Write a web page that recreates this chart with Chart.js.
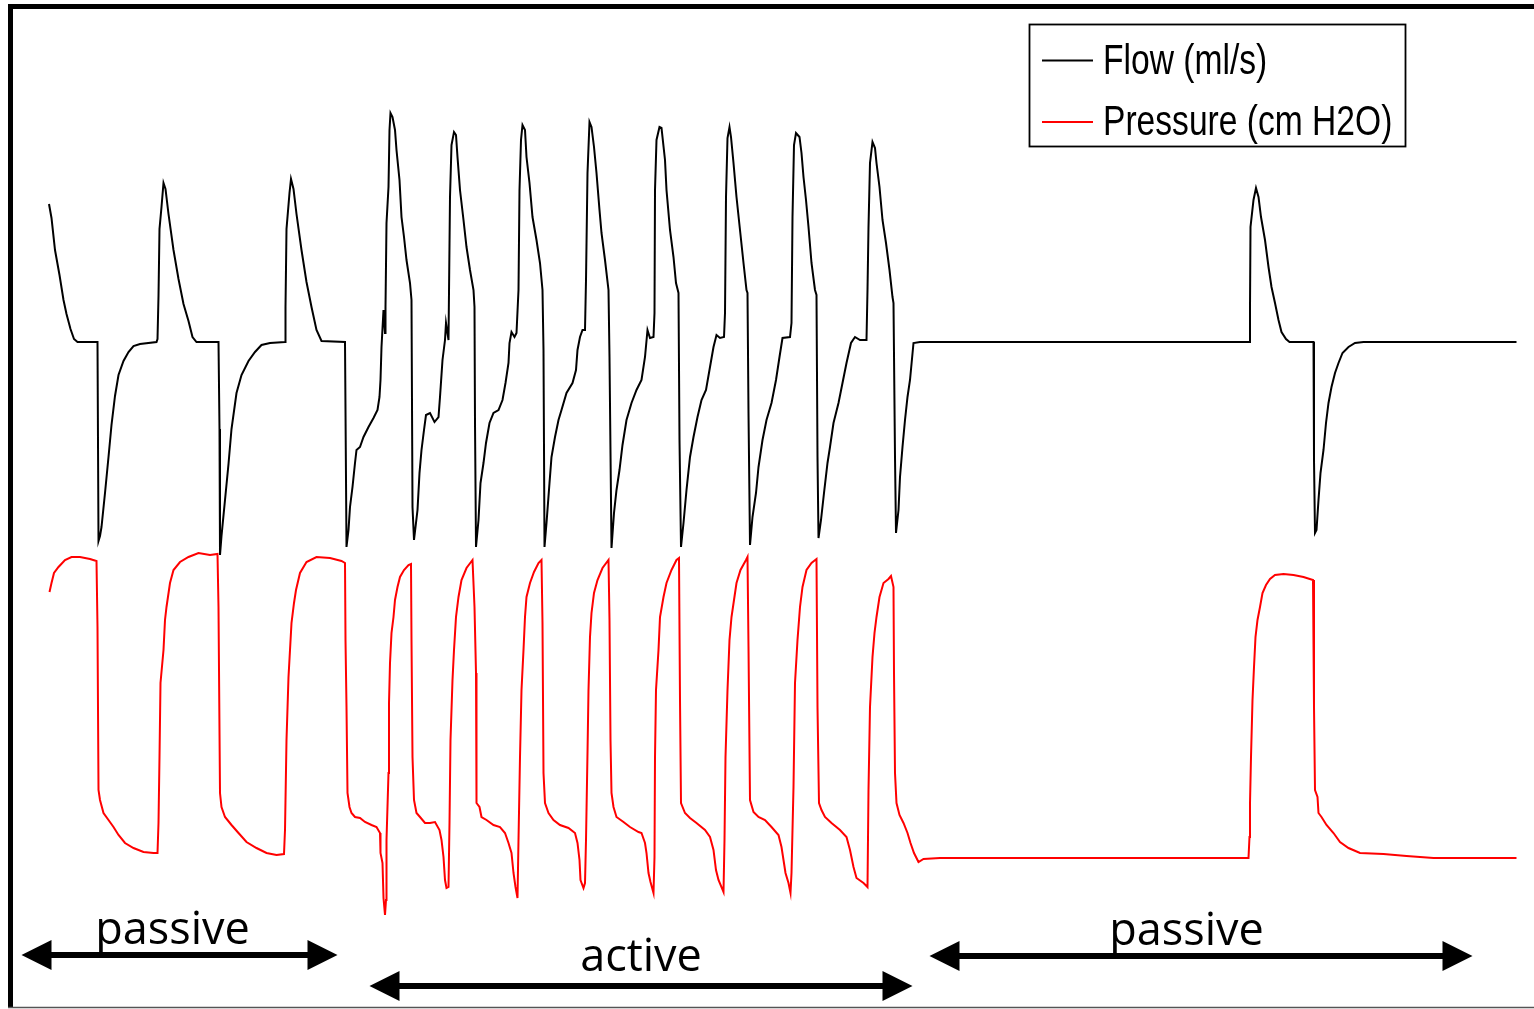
<!DOCTYPE html>
<html>
<head>
<meta charset="utf-8">
<title>Flow and pressure</title>
<script src="https://cdn.jsdelivr.net/npm/chart.js@4.4.1/dist/chart.umd.min.js"></script>
<style>
  html, body { margin: 0; padding: 0; background: #fff; }
  #wrap { width: 1534px; height: 1009px; position: relative; }
</style>
</head>
<body>
<div id="wrap"><canvas id="trace"></canvas></div>
<script>
// ---- flow trace, time (s) and flow (ml/s), one line per breath ----
const flowTime = [
  0.72, 0.77, 0.84, 0.93, 1.01, 1.07, 1.15, 1.22, 1.29, 1.69,
  1.71, 1.74, 1.77, 1.84, 1.91, 1.97, 2.04, 2.11, 2.21, 2.31, 2.41, 2.54, 2.87,
  2.89, 2.91, 2.93, 2.97, 3.01, 3.05, 3.11, 3.21, 3.31, 3.41, 3.51, 3.59, 3.67, 4.11,
  4.13, 4.14, 4.17, 4.24, 4.31, 4.37, 4.47, 4.57, 4.71, 4.84, 4.97, 5.14, 5.44,
  5.45, 5.47, 5.53, 5.56, 5.61, 5.67, 5.77, 5.87, 5.97, 6.07, 6.17, 6.64,
  6.67, 6.71, 6.74, 6.79, 6.84, 6.87, 6.94, 7.01, 7.11, 7.21, 7.29, 7.33, 7.35, 7.37, 7.41, 7.44, 7.45, 7.47, 7.51, 7.53, 7.55, 7.59, 7.64, 7.67, 7.73, 7.77, 7.82, 7.87, 7.94, 7.97,
  7.99, 8.02, 8.09, 8.13, 8.17, 8.22, 8.26, 8.34, 8.43, 8.51, 8.54, 8.59, 8.64, 8.66, 8.71, 8.74, 8.77, 8.82, 8.86, 8.89, 8.94, 9.01, 9.07, 9.14, 9.21, 9.23,
  9.24, 9.26, 9.31, 9.35, 9.41, 9.46, 9.53, 9.61, 9.71, 9.79, 9.85, 9.91, 9.93, 9.97, 10.03, 10.07, 10.11, 10.13, 10.16, 10.19, 10.24, 10.27, 10.33, 10.39, 10.47, 10.54, 10.59,
  10.61, 10.63, 10.67, 10.73, 10.77, 10.84, 10.91, 10.97, 11.07, 11.19, 11.26, 11.29, 11.34, 11.39, 11.44, 11.46, 11.49, 11.53, 11.57, 11.62, 11.67, 11.73, 11.77, 11.84, 11.91,
  11.93, 11.97, 12.02, 12.07, 12.13, 12.19, 12.27, 12.37, 12.47, 12.57, 12.64, 12.69, 12.74, 12.81, 12.83, 12.84, 12.87, 12.93, 12.97, 13.04, 13.07, 13.14, 13.21, 13.26, 13.31,
  13.33, 13.36, 13.41, 13.47, 13.54, 13.61, 13.69, 13.77, 13.86, 13.94, 14.01, 14.07, 14.14, 14.22, 14.24, 14.26, 14.29, 14.33, 14.36, 14.41, 14.47, 14.54, 14.61, 14.67, 14.69,
  14.71, 14.74, 14.79, 14.86, 14.91, 14.99, 15.07, 15.17, 15.26, 15.33, 15.39, 15.54, 15.57, 15.59, 15.62, 15.66, 15.73, 15.77, 15.81, 15.86, 15.91, 15.97, 16.04, 16.07,
  16.09, 16.11, 16.16, 16.22, 16.29, 16.34, 16.41, 16.51, 16.59, 16.67, 16.76, 16.84, 16.94, 17.07, 17.09, 17.11, 17.14, 17.19, 17.24, 17.27, 17.33, 17.39, 17.46, 17.53, 17.59, 17.61,
  17.64, 17.66, 17.71, 17.74, 17.79, 17.84, 17.89, 17.94, 18.01, 18.14, 24.73,
  24.74, 24.75, 24.81, 24.86, 24.91, 24.96, 25.04, 25.11, 25.17, 25.24, 25.31, 25.37, 25.46, 25.53, 26.01,
  26.02, 26.04, 26.07, 26.11, 26.15, 26.21, 26.26, 26.31, 26.37, 26.44, 26.51, 26.59, 26.71, 26.84, 27.01, 30.07
];
const flowRate = [
  138, 124, 92, 67, 42, 28, 13, 3, 0, 0,
  -199, -194, -185, -151, -115, -83, -54, -33, -19, -10, -4, -2, 0,
  3, 46, 113, 135, 159, 153, 128, 92, 63, 38, 21, 5, 0, 0,
  -87, -213, -194, -158, -122, -87, -51, -33, -19, -10, -3, -1, 0,
  35, 113, 149, 163, 153, 128, 92, 60, 35, 12, 1, 0,
  -205, -188, -165, -145, -121, -108, -105, -95, -85, -76, -68, -55, -38, -5, 32, 9, 35, 119, 155, 212, 229, 225, 212, 192, 162, 125, 105, 82, 59, 42,
  -165, -198, -168, -131, -108, -88, -73, -71, -80, -75, -55, -18, 2, 19, 2, 145, 197, 210, 207, 185, 152, 122, 95, 72, 52, 35,
  -81, -205, -178, -141, -121, -101, -81, -71, -68, -58, -41, -21, -1, 10, 5, 9, 52, 152, 202, 217, 212, 185, 159, 125, 102, 79, 52,
  -8, -205, -181, -141, -115, -95, -78, -68, -51, -41, -28, -8, 5, 12, 12, 62, 169, 220, 215, 195, 169, 132, 109, 82, 52,
  -15, -206, -171, -148, -128, -103, -78, -61, -48, -38, -15, 12, 4, 5, 29, 152, 202, 215, 214, 182, 152, 112, 85, 59, 49,
  -98, -205, -181, -148, -115, -95, -75, -58, -48, -25, -5, 7, 4, 5, 29, 145, 204, 215, 205, 179, 145, 112, 79, 52, 49,
  -71, -203, -175, -151, -125, -98, -78, -61, -38, -15, 4, 5, 19, 125, 197, 209, 205, 189, 165, 142, 115, 79, 52, 47,
  -115, -196, -178, -151, -121, -105, -81, -61, -41, -21, -1, 5, 2, 2, 52, 115, 179, 200, 194, 179, 155, 122, 99, 72, 45, 39,
  -115, -191, -168, -135, -105, -78, -55, -38, -1, 0, 0,
  35, 115, 142, 154, 145, 125, 102, 75, 55, 39, 22, 10, 3, 0, 0,
  -118, -191, -188, -158, -131, -108, -81, -61, -45, -31, -21, -11, -5, -1, 0, 0
];

// ---- pressure trace, time (s) and pressure (cm H2O) ----
const pressureTime = [
  0.73, 0.77, 0.82, 0.91, 1.04, 1.17, 1.34, 1.54, 1.67,
  1.69, 1.71, 1.74, 1.81, 1.91, 2.01, 2.11, 2.24, 2.41, 2.61, 2.81, 2.89,
  2.91, 2.93, 2.95, 3.01, 3.04, 3.07, 3.14, 3.21, 3.34, 3.51, 3.71, 3.94, 4.09,
  4.11, 4.14, 4.17, 4.24, 4.37, 4.51, 4.67, 4.87, 5.07, 5.27, 5.42,
  5.44, 5.47, 5.51, 5.57, 5.62, 5.66, 5.74, 5.87, 6.07, 6.34, 6.57, 6.64,
  6.65, 6.67, 6.69, 6.73, 6.77, 6.84, 6.94, 7.04, 7.17, 7.27, 7.34, 7.35, 7.39, 7.41, 7.44, 7.46,
  7.47, 7.51, 7.52, 7.54, 7.57, 7.61, 7.64, 7.69, 7.74, 7.82, 7.91, 7.96,
  7.97, 7.99, 8.02, 8.07, 8.14, 8.24, 8.34, 8.44, 8.53, 8.57, 8.61, 8.64, 8.67, 8.71,
  8.73, 8.75, 8.79, 8.82, 8.86, 8.91, 8.97, 9.07, 9.19,
  9.23, 9.26, 9.27, 9.33, 9.37, 9.47, 9.61, 9.74, 9.84, 9.91, 9.97, 10.01, 10.05, 10.09,
  10.11, 10.14, 10.17, 10.21, 10.24, 10.27, 10.34, 10.42, 10.51, 10.57,
  10.59, 10.61, 10.64, 10.71, 10.81, 10.94, 11.11, 11.24, 11.29, 11.33, 11.35, 11.41, 11.44,
  11.46, 11.49, 11.51, 11.54, 11.57, 11.62, 11.69, 11.79, 11.91,
  11.93, 11.95, 11.97, 12.01, 12.07, 12.21, 12.34, 12.51, 12.57, 12.64, 12.67, 12.71, 12.75, 12.81,
  12.83, 12.84, 12.86, 12.91, 12.94, 13.01, 13.07, 13.17, 13.27, 13.32,
  13.34, 13.36, 13.44, 13.54, 13.67, 13.84, 13.94, 14.01, 14.06, 14.11, 14.21,
  14.23, 14.25, 14.29, 14.33, 14.37, 14.42, 14.47, 14.55, 14.66, 14.69,
  14.71, 14.74, 14.81, 14.91, 15.04, 15.17, 15.31, 15.37, 15.41, 15.45, 15.51, 15.55,
  15.57, 15.61, 15.64, 15.69, 15.74, 15.79, 15.87, 15.97, 16.07,
  16.09, 16.12, 16.17, 16.24, 16.37, 16.54, 16.67, 16.74, 16.81, 16.87, 17.01, 17.09,
  17.11, 17.14, 17.19, 17.23, 17.27, 17.33, 17.41, 17.51, 17.56, 17.61,
  17.62, 17.64, 17.67, 17.73, 17.81, 17.89, 17.95, 18.02, 18.11, 18.21, 18.54, 24.71,
  24.73, 24.74, 24.76, 24.79, 24.82, 24.85, 24.89, 24.94, 24.99, 25.06, 25.14, 25.24, 25.41, 25.61, 25.81, 26.0,
  26.02, 26.04, 26.09, 26.11, 26.17, 26.27, 26.41, 26.54, 26.71, 26.94, 27.41, 27.87, 28.41, 30.07
];
const pressureValue = [
  13.3, 13.75, 14.25, 14.55, 14.9, 15.05, 15.05, 14.95, 14.85,
  11.55, 3.4, 2.9, 2.25, 1.9, 1.55, 1.15, 0.75, 0.5, 0.3, 0.25, 0.25,
  1.75, 5.05, 8.75, 10.4, 11.9, 12.55, 13.75, 14.4, 14.8, 15.05, 15.25, 15.15, 15.2,
  12.55, 3.25, 2.55, 2.05, 1.65, 1.25, 0.8, 0.5, 0.25, 0.15, 0.2,
  1.4, 5.9, 9.05, 11.75, 12.75, 13.4, 14.25, 14.8, 15.05, 15.0, 14.85, 14.75,
  10.9, 7.55, 3.25, 2.55, 2.25, 2.05, 2.0, 1.8, 1.65, 1.55, 1.25, 0.25, -0.25, -2.0, -2.85, -2.1,
  0.9, 4.25, 7.75, 9.75, 11.25, 12.05, 12.9, 13.55, 14.05, 14.4, 14.65, 14.7,
  10.9, 5.05, 2.9, 2.25, 2.05, 1.75, 1.75, 1.8, 1.4, 0.9, 0.05, -1.1, -1.5, -1.45,
  1.75, 5.9, 8.9, 10.4, 12.05, 13.05, 13.9, 14.5, 14.9,
  12.55, 9.25, 2.75, 2.55, 2.05, 1.9, 1.65, 1.55, 1.25, 0.75, 0.25, -0.75, -1.45, -2.0,
  0.9, 5.05, 8.4, 10.4, 12.05, 13.05, 13.75, 14.3, 14.75, 14.9,
  11.75, 4.25, 2.75, 2.25, 1.9, 1.65, 1.5, 1.25, 0.75, -0.1, -1.1, -1.5, -1.25,
  0.9, 5.25, 8.4, 11.05, 12.25, 13.25, 13.9, 14.5, 14.9,
  11.9, 5.9, 3.25, 2.55, 2.05, 1.8, 1.55, 1.3, 1.25, 0.75, 0.25, -0.75, -1.2, -1.75,
  0.05, 5.05, 8.4, 10.4, 12.05, 13.05, 13.75, 14.4, 14.9, 15.0,
  7.9, 2.75, 2.25, 2.0, 1.75, 1.4, 1.05, 0.4, -0.6, -1.1, -1.7,
  0.9, 5.05, 8.4, 10.9, 12.05, 12.9, 13.75, 14.4, 14.9, 15.05,
  10.55, 2.9, 2.3, 2.05, 1.9, 1.55, 1.15, 0.55, -0.1, -0.75, -1.25, -1.75,
  -0.75, 3.55, 8.75, 10.9, 12.55, 13.55, 14.4, 14.75, 14.95,
  7.55, 2.75, 2.4, 2.05, 1.75, 1.4, 1.05, 0.4, -0.45, -1.0, -1.25, -1.45,
  3.4, 7.55, 10.05, 11.25, 12.05, 13.05, 13.75, 13.95, 14.1, 13.55,
  9.25, 4.25, 2.75, 2.15, 1.75, 1.25, 0.75, 0.25, -0.2, -0.05, 0, 0,
  1.05, 2.75, 5.05, 7.9, 9.55, 11.05, 11.9, 12.55, 13.25, 13.65, 13.95, 14.15, 14.2, 14.15, 14.05, 13.9,
  7.55, 3.4, 3.05, 2.25, 2.05, 1.65, 1.25, 0.8, 0.5, 0.25, 0.2, 0.1, 0, 0
];

// ---- breathing phases marked under the traces ----
const phaseNames = ['passive', 'active', 'passive'];
const phaseStart = [0.17, 7.13, 18.33];      // s
const phaseEnd = [6.49, 17.99, 29.19];       // s
const phaseLabelTime = [3.19, 12.56, 23.47]; // s, label centre
const phaseLevel = [-4.85, -6.4, -4.9];      // cm H2O, arrow height
const phaseLabelLevel = [-4.3, -5.64, -4.35]; // cm H2O, label baseline

const toPoints = (xs, ys) => xs.map((x, i) => ({ x: x, y: ys[i] }));

// double-headed arrows with phase names
const phasePlugin = {
  id: 'phases',
  afterDatasetsDraw(chart) {
    const ctx = chart.ctx;
    const xs = chart.scales.x, ys = chart.scales.yPres;
    ctx.save();
    ctx.fillStyle = '#000';
    ctx.strokeStyle = '#000';
    ctx.lineWidth = 6;
    const head = 30, half = 15;
    phaseNames.forEach((name, i) => {
      const x1 = xs.getPixelForValue(phaseStart[i]);
      const x2 = xs.getPixelForValue(phaseEnd[i]);
      const y = ys.getPixelForValue(phaseLevel[i]);
      ctx.beginPath();
      ctx.moveTo(x1 + head - 2, y);
      ctx.lineTo(x2 - head + 2, y);
      ctx.stroke();
      ctx.beginPath();
      ctx.moveTo(x1, y);
      ctx.lineTo(x1 + head, y - half);
      ctx.lineTo(x1 + head, y + half);
      ctx.closePath();
      ctx.fill();
      ctx.beginPath();
      ctx.moveTo(x2, y);
      ctx.lineTo(x2 - head, y - half);
      ctx.lineTo(x2 - head, y + half);
      ctx.closePath();
      ctx.fill();

      ctx.font = '45px "Open Sans", "Noto Sans", sans-serif';
      ctx.textAlign = 'center';
      ctx.textBaseline = 'alphabetic';
      ctx.fillText(name, xs.getPixelForValue(phaseLabelTime[i]), ys.getPixelForValue(phaseLabelLevel[i]));
    });
    ctx.restore();
  }
};

// boxed legend in the top-right corner plus the frame lines
const framePlugin = {
  id: 'frame',
  afterDraw(chart) {
    const ctx = chart.ctx;
    ctx.save();
    // frame
    ctx.fillStyle = '#000';
    ctx.fillRect(8, 4, chart.width - 8, 5);
    ctx.fillRect(8, 4, 5, 1004);
    ctx.strokeStyle = '#555';
    ctx.lineWidth = 1.5;
    ctx.beginPath();
    ctx.moveTo(8, 1007.5);
    ctx.lineTo(chart.width, 1007.5);
    ctx.stroke();

    // legend
    const bx = 1029.5, by = 24.5, bw = 376, bh = 122;
    ctx.fillStyle = '#fff';
    ctx.fillRect(bx, by, bw, bh);
    ctx.strokeStyle = '#000';
    ctx.lineWidth = 1.8;
    ctx.strokeRect(bx, by, bw, bh);
    const rows = [60.5, 122];
    chart.data.datasets.forEach((ds, i) => {
      const y = rows[i];
      ctx.strokeStyle = ds.borderColor;
      ctx.lineWidth = 2;
      ctx.beginPath();
      ctx.moveTo(1042, y);
      ctx.lineTo(1093, y);
      ctx.stroke();
      ctx.save();
      ctx.translate(1103, y + 13);
      ctx.scale(0.8, 1);
      ctx.fillStyle = '#000';
      ctx.font = '42px "Liberation Sans", Arial, sans-serif';
      ctx.textAlign = 'left';
      ctx.textBaseline = 'alphabetic';
      ctx.fillText(ds.label, 0, 0);
      ctx.restore();
    });
    ctx.restore();
  }
};

new Chart(document.getElementById('trace'), {
  type: 'line',
  data: {
    datasets: [
      {
        label: 'Flow (ml/s)',
        data: toPoints(flowTime, flowRate),
        borderColor: '#000000',
        borderWidth: 2,
        pointRadius: 0,
        tension: 0,
        yAxisID: 'yFlow',
      },
      {
        label: 'Pressure (cm H2O)',
        data: toPoints(pressureTime, pressureValue),
        borderColor: '#ff0000',
        borderWidth: 2,
        pointRadius: 0,
        tension: 0,
        yAxisID: 'yPres',
      },
    ],
  },
  options: {
    responsive: true,
    maintainAspectRatio: false,
    animation: false,
    devicePixelRatio: 1,
    layout: { padding: { left: 13, top: 9, right: 0, bottom: 2 } },
    plugins: {
      legend: { display: false },
      tooltip: { enabled: false },
    },
    scales: {
      x: { type: 'linear', min: 0, max: 30.42, display: false },
      yFlow: { type: 'linear', min: -665, max: 333, display: false },
      yPres: { type: 'linear', min: -7.45, max: 42.45, display: false },
    },
  },
  plugins: [phasePlugin, framePlugin],
});
</script>
</body>
</html>
